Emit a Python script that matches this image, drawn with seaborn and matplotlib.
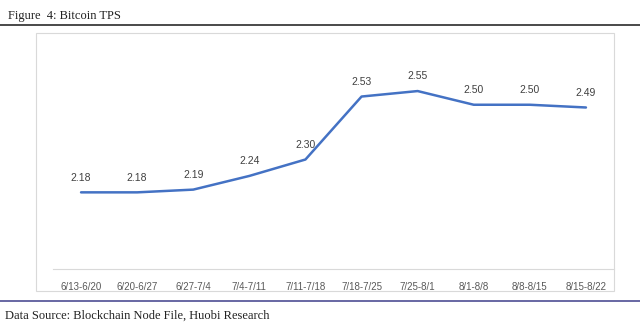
import matplotlib
matplotlib.use("Agg")
import matplotlib.pyplot as plt
import seaborn as sns
import pandas as pd
from matplotlib.patches import Rectangle
from matplotlib.lines import Line2D

weeks = ["6/13-6/20", "6/20-6/27", "6/27-7/4", "7/4-7/11", "7/11-7/18",
         "7/18-7/25", "7/25-8/1", "8/1-8/8", "8/8-8/15", "8/15-8/22"]
tps = [2.18, 2.18, 2.19, 2.24, 2.30, 2.53, 2.55, 2.50, 2.50, 2.49]

df = pd.DataFrame({"week": weeks, "tps": tps})

sns.set_style("white")
plt.rcParams["font.family"] = ["Liberation Sans", "DejaVu Sans"]

W, H = 640, 327
fig = plt.figure(figsize=(W / 100, H / 100), dpi=100)

def fx(px):
    return px / W

def fy(py):
    return 1 - py / H

# chart frame
fig.patches.append(Rectangle((fx(36), fy(291)), fx(614) - fx(36), fy(33) - fy(291),
                             transform=fig.transFigure, fill=False,
                             edgecolor="#d9d9d9", linewidth=0.8))
# header and footer rules
fig.lines.append(Line2D([0, 1], [fy(25), fy(25)], transform=fig.transFigure,
                        color="#3a3a3a", linewidth=1.3))
fig.lines.append(Line2D([0, 1], [fy(301), fy(301)], transform=fig.transFigure,
                        color="#5c5c9c", linewidth=1.3))

fig.text(fx(8), fy(16), "Figure  4: Bitcoin TPS", family="Liberation Serif",
         fontsize=9, color="#222222", va="center", ha="left")
fig.text(fx(5), fy(316), "Data Source: Blockchain Node File, Huobi Research",
         family="Liberation Serif", fontsize=9, color="#222222",
         va="center", ha="left")

ax = fig.add_axes([fx(53), fy(269), fx(614) - fx(53), fy(50) - fy(269)])
sns.lineplot(data=df, x="week", y="tps", ax=ax, color="#4472C4",
             linewidth=1.8, sort=False)

ax.set_xlim(-0.5, len(weeks) - 0.5)
ax.set_ylim(1.9, 2.7)
ax.set_xlabel("")
ax.set_ylabel("")
ax.set_yticks([])
for s in ["top", "right", "left"]:
    ax.spines[s].set_visible(False)
ax.spines["bottom"].set_color("#d9d9d9")
ax.spines["bottom"].set_linewidth(0.8)
ax.tick_params(axis="x", length=0, pad=9, labelsize=7, labelcolor="#595959")

for i, v in enumerate(tps):
    ax.annotate(f"{v:.2f}", (i, v), xytext=(0, 7), textcoords="offset points",
                ha="center", va="bottom", fontsize=7.5, color="#404040")

fig.savefig("out.png", dpi=100)
